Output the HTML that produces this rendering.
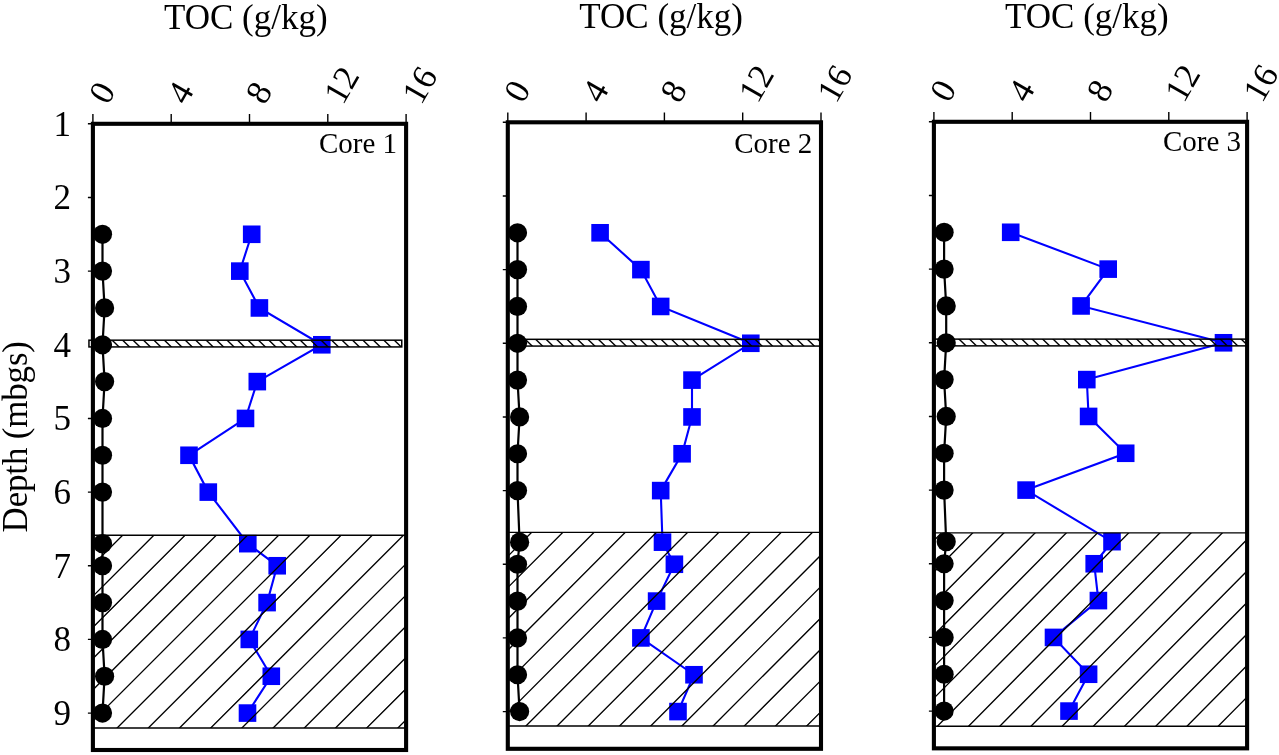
<!DOCTYPE html>
<html><head><meta charset="utf-8"><title>TOC depth profiles</title>
<style>html,body{margin:0;padding:0;background:#fff;}body{width:1279px;height:755px;overflow:hidden;}svg{display:block;will-change:transform;}text{font-family:'Liberation Serif', serif;fill:#000;}</style>
</head><body>
<svg width="1279" height="755" viewBox="0 0 1279 755">
<rect x="0" y="0" width="1279" height="755" fill="#fff"/>
<text transform="translate(26.7,532.4) rotate(-90)" font-size="35" textLength="191.4" lengthAdjust="spacing">Depth (mbgs)</text>
<g id="panel1">
<defs><clipPath id="hc0"><rect x="92.9" y="535.2" width="313.2" height="192.8"/></clipPath>
<clipPath id="bc0"><rect x="88.95" y="340.18" width="312.8" height="6.75"/></clipPath></defs>
<polyline points="251.7,234.29 239.8,271.12 259.4,307.95 321.8,344.78 257.3,381.61 245.5,418.44 189,455.27 208.3,492.1 247.8,543.66 277.2,565.76 267.1,602.59 249.3,639.42 271.3,676.25 247.5,713.08" fill="none" stroke="#0000ff" stroke-width="2.1"/>
<rect x="242.9" y="225.49" width="17.6" height="17.6" fill="#0000ff"/>
<rect x="231" y="262.32" width="17.6" height="17.6" fill="#0000ff"/>
<rect x="250.6" y="299.15" width="17.6" height="17.6" fill="#0000ff"/>
<rect x="313" y="335.98" width="17.6" height="17.6" fill="#0000ff"/>
<rect x="248.5" y="372.81" width="17.6" height="17.6" fill="#0000ff"/>
<rect x="236.7" y="409.64" width="17.6" height="17.6" fill="#0000ff"/>
<rect x="180.2" y="446.47" width="17.6" height="17.6" fill="#0000ff"/>
<rect x="199.5" y="483.3" width="17.6" height="17.6" fill="#0000ff"/>
<rect x="239" y="534.86" width="17.6" height="17.6" fill="#0000ff"/>
<rect x="268.4" y="556.96" width="17.6" height="17.6" fill="#0000ff"/>
<rect x="258.3" y="593.79" width="17.6" height="17.6" fill="#0000ff"/>
<rect x="240.5" y="630.62" width="17.6" height="17.6" fill="#0000ff"/>
<rect x="262.5" y="667.45" width="17.6" height="17.6" fill="#0000ff"/>
<rect x="238.7" y="704.28" width="17.6" height="17.6" fill="#0000ff"/>
<g clip-path="url(#hc0)" stroke="#000" stroke-width="1.35" fill="none">
<path d="M-137.5 733L65.3 530.2M-106.3 733L96.5 530.2M-75.1 733L127.7 530.2M-43.9 733L158.9 530.2M-12.7 733L190.1 530.2M18.5 733L221.3 530.2M49.7 733L252.5 530.2M80.9 733L283.7 530.2M112.1 733L314.9 530.2M143.3 733L346.1 530.2M174.5 733L377.3 530.2M205.7 733L408.5 530.2M236.9 733L439.7 530.2M268.1 733L470.9 530.2M299.3 733L502.1 530.2M330.5 733L533.3 530.2M361.7 733L564.5 530.2M392.9 733L595.7 530.2M424.1 733L626.9 530.2M455.3 733L658.1 530.2"/>
</g>
<path d="M92.9 535.2H406.1M92.9 728H406.1" stroke="#000" stroke-width="1.4" fill="none"/>
<g clip-path="url(#bc0)" stroke="#000" stroke-width="1.4" fill="none">
<path d="M67.62 337.55L79.98 349.55M78.07 337.55L90.43 349.55M88.52 337.55L100.88 349.55M98.97 337.55L111.33 349.55M109.42 337.55L121.78 349.55M119.87 337.55L132.23 349.55M130.32 337.55L142.68 349.55M140.77 337.55L153.13 349.55M151.22 337.55L163.58 349.55M161.67 337.55L174.03 349.55M172.12 337.55L184.48 349.55M182.57 337.55L194.93 349.55M193.02 337.55L205.38 349.55M203.47 337.55L215.83 349.55M213.92 337.55L226.28 349.55M224.37 337.55L236.73 349.55M234.82 337.55L247.18 349.55M245.27 337.55L257.63 349.55M255.72 337.55L268.08 349.55M266.17 337.55L278.53 349.55M276.62 337.55L288.98 349.55M287.07 337.55L299.43 349.55M297.52 337.55L309.88 349.55M307.97 337.55L320.33 349.55M318.42 337.55L330.78 349.55M328.87 337.55L341.23 349.55M339.32 337.55L351.68 349.55M349.77 337.55L362.13 349.55M360.22 337.55L372.58 349.55M370.67 337.55L383.03 349.55M381.12 337.55L393.48 349.55M391.57 337.55L403.93 349.55M402.02 337.55L414.38 349.55M412.47 337.55L424.83 349.55"/>
</g>
<rect x="88.95" y="340.18" width="312.8" height="6.75" fill="none" stroke="#000" stroke-width="1.5"/>
<polyline points="102.5,234.29 102.5,271.12 104.6,307.95 102.5,344.78 104.6,381.61 102.5,418.44 102.5,455.27 102.5,492.1 102.5,543.66 102.5,565.76 102.5,602.59 102.5,639.42 104.6,676.25 102.5,713.08" fill="none" stroke="#000" stroke-width="2.2"/>
<circle cx="102.5" cy="234.29" r="9.6" fill="#000"/>
<circle cx="102.5" cy="271.12" r="9.6" fill="#000"/>
<circle cx="104.6" cy="307.95" r="9.6" fill="#000"/>
<circle cx="102.5" cy="344.78" r="9.6" fill="#000"/>
<circle cx="104.6" cy="381.61" r="9.6" fill="#000"/>
<circle cx="102.5" cy="418.44" r="9.6" fill="#000"/>
<circle cx="102.5" cy="455.27" r="9.6" fill="#000"/>
<circle cx="102.5" cy="492.1" r="9.6" fill="#000"/>
<circle cx="102.5" cy="543.66" r="9.6" fill="#000"/>
<circle cx="102.5" cy="565.76" r="9.6" fill="#000"/>
<circle cx="102.5" cy="602.59" r="9.6" fill="#000"/>
<circle cx="102.5" cy="639.42" r="9.6" fill="#000"/>
<circle cx="104.6" cy="676.25" r="9.6" fill="#000"/>
<circle cx="102.5" cy="713.08" r="9.6" fill="#000"/>
<rect x="92.9" y="123.8" width="313.2" height="626.2" fill="none" stroke="#000" stroke-width="4.1"/>
<path d="M92.9 123.8V114M171.2 123.8V114M249.5 123.8V114M327.8 123.8V114M406.1 123.8V114M92.9 123.8H87.9M92.9 197.46H87.9M92.9 271.12H87.9M92.9 418.44H87.9M92.9 492.1H87.9M92.9 565.76H87.9M92.9 639.42H87.9M92.9 713.08H87.9" stroke="#000" stroke-width="1.4" fill="none"/>
<text transform="translate(107.8,106) rotate(-60)" font-size="35">0</text>
<text transform="translate(186.1,106) rotate(-60)" font-size="35">4</text>
<text transform="translate(264.4,106) rotate(-60)" font-size="35">8</text>
<text transform="translate(342.7,106) rotate(-60)" font-size="35">12</text>
<text transform="translate(421,106) rotate(-60)" font-size="35">16</text>
<text x="71" y="135.6" font-size="35" text-anchor="end">1</text>
<text x="71" y="209.26" font-size="35" text-anchor="end">2</text>
<text x="71" y="282.92" font-size="35" text-anchor="end">3</text>
<text x="71" y="356.58" font-size="35" text-anchor="end">4</text>
<text x="71" y="430.24" font-size="35" text-anchor="end">5</text>
<text x="71" y="503.9" font-size="35" text-anchor="end">6</text>
<text x="71" y="577.56" font-size="35" text-anchor="end">7</text>
<text x="71" y="651.22" font-size="35" text-anchor="end">8</text>
<text x="71" y="724.88" font-size="35" text-anchor="end">9</text>
<text x="163.9" y="29" font-size="35">TOC (g/kg)</text>
<text x="318.9" y="152.8" font-size="29">Core 1</text>
</g>
<g id="panel2">
<defs><clipPath id="hc1"><rect x="507.8" y="532.4" width="313.2" height="193.55"/></clipPath>
<clipPath id="bc1"><rect x="508" y="339.32" width="313" height="6.75"/></clipPath></defs>
<polyline points="600.1,232.79 640.9,269.62 660.7,306.45 750.8,343.28 692,380.11 692,416.94 682.1,453.77 660.7,490.6 662.5,542.16 674.4,564.26 656.6,601.09 640.9,637.92 694,674.75 678,711.58" fill="none" stroke="#0000ff" stroke-width="2.1"/>
<rect x="591.3" y="223.99" width="17.6" height="17.6" fill="#0000ff"/>
<rect x="632.1" y="260.82" width="17.6" height="17.6" fill="#0000ff"/>
<rect x="651.9" y="297.65" width="17.6" height="17.6" fill="#0000ff"/>
<rect x="742" y="334.48" width="17.6" height="17.6" fill="#0000ff"/>
<rect x="683.2" y="371.31" width="17.6" height="17.6" fill="#0000ff"/>
<rect x="683.2" y="408.14" width="17.6" height="17.6" fill="#0000ff"/>
<rect x="673.3" y="444.97" width="17.6" height="17.6" fill="#0000ff"/>
<rect x="651.9" y="481.8" width="17.6" height="17.6" fill="#0000ff"/>
<rect x="653.7" y="533.36" width="17.6" height="17.6" fill="#0000ff"/>
<rect x="665.6" y="555.46" width="17.6" height="17.6" fill="#0000ff"/>
<rect x="647.8" y="592.29" width="17.6" height="17.6" fill="#0000ff"/>
<rect x="632.1" y="629.12" width="17.6" height="17.6" fill="#0000ff"/>
<rect x="685.2" y="665.95" width="17.6" height="17.6" fill="#0000ff"/>
<rect x="669.2" y="702.78" width="17.6" height="17.6" fill="#0000ff"/>
<g clip-path="url(#hc1)" stroke="#000" stroke-width="1.35" fill="none">
<path d="M271.37 730.95L474.18 527.4M302.57 730.95L505.38 527.4M333.77 730.95L536.58 527.4M364.97 730.95L567.78 527.4M396.17 730.95L598.98 527.4M427.37 730.95L630.18 527.4M458.57 730.95L661.38 527.4M489.77 730.95L692.58 527.4M520.97 730.95L723.78 527.4M552.17 730.95L754.98 527.4M583.37 730.95L786.18 527.4M614.57 730.95L817.38 527.4M645.77 730.95L848.58 527.4M676.97 730.95L879.78 527.4M708.17 730.95L910.98 527.4M739.37 730.95L942.18 527.4M770.57 730.95L973.38 527.4M801.77 730.95L1004.58 527.4M832.97 730.95L1035.78 527.4M864.17 730.95L1066.98 527.4"/>
</g>
<path d="M507.8 532.4H821M507.8 725.95H821" stroke="#000" stroke-width="1.4" fill="none"/>
<g clip-path="url(#bc1)" stroke="#000" stroke-width="1.4" fill="none">
<path d="M491.17 336.7L503.53 348.7M501.62 336.7L513.98 348.7M512.07 336.7L524.43 348.7M522.52 336.7L534.88 348.7M532.97 336.7L545.33 348.7M543.42 336.7L555.78 348.7M553.87 336.7L566.23 348.7M564.32 336.7L576.68 348.7M574.77 336.7L587.13 348.7M585.22 336.7L597.58 348.7M595.67 336.7L608.03 348.7M606.12 336.7L618.48 348.7M616.57 336.7L628.93 348.7M627.02 336.7L639.38 348.7M637.47 336.7L649.83 348.7M647.92 336.7L660.28 348.7M658.37 336.7L670.73 348.7M668.82 336.7L681.18 348.7M679.27 336.7L691.63 348.7M689.72 336.7L702.08 348.7M700.17 336.7L712.53 348.7M710.62 336.7L722.98 348.7M721.07 336.7L733.43 348.7M731.52 336.7L743.88 348.7M741.97 336.7L754.33 348.7M752.42 336.7L764.78 348.7M762.87 336.7L775.23 348.7M773.32 336.7L785.68 348.7M783.77 336.7L796.13 348.7M794.22 336.7L806.58 348.7M804.67 336.7L817.03 348.7M815.12 336.7L827.48 348.7M825.57 336.7L837.93 348.7"/>
</g>
<rect x="508" y="339.32" width="313" height="6.75" fill="none" stroke="#000" stroke-width="1.5"/>
<polyline points="517.5,232.79 517.5,269.62 517.5,306.45 517.5,343.28 517.5,380.11 519.6,416.94 517.5,453.77 517.5,490.6 519.6,542.16 517.5,564.26 517.5,601.09 517.5,637.92 517.5,674.75 519.6,711.58" fill="none" stroke="#000" stroke-width="2.2"/>
<circle cx="517.5" cy="232.79" r="9.6" fill="#000"/>
<circle cx="517.5" cy="269.62" r="9.6" fill="#000"/>
<circle cx="517.5" cy="306.45" r="9.6" fill="#000"/>
<circle cx="517.5" cy="343.28" r="9.6" fill="#000"/>
<circle cx="517.5" cy="380.11" r="9.6" fill="#000"/>
<circle cx="519.6" cy="416.94" r="9.6" fill="#000"/>
<circle cx="517.5" cy="453.77" r="9.6" fill="#000"/>
<circle cx="517.5" cy="490.6" r="9.6" fill="#000"/>
<circle cx="519.6" cy="542.16" r="9.6" fill="#000"/>
<circle cx="517.5" cy="564.26" r="9.6" fill="#000"/>
<circle cx="517.5" cy="601.09" r="9.6" fill="#000"/>
<circle cx="517.5" cy="637.92" r="9.6" fill="#000"/>
<circle cx="517.5" cy="674.75" r="9.6" fill="#000"/>
<circle cx="519.6" cy="711.58" r="9.6" fill="#000"/>
<rect x="507.8" y="122.3" width="313.2" height="626.5" fill="none" stroke="#000" stroke-width="4.1"/>
<path d="M507.8 122.3V112.5M586.1 122.3V112.5M664.4 122.3V112.5M742.7 122.3V112.5M821 122.3V112.5M507.8 122.3H502.8M507.8 195.96H502.8M507.8 269.62H502.8M507.8 343.28H502.8M507.8 416.94H502.8M507.8 490.6H502.8M507.8 564.26H502.8M507.8 637.92H502.8M507.8 711.58H502.8" stroke="#000" stroke-width="1.4" fill="none"/>
<text transform="translate(522.7,104.5) rotate(-60)" font-size="35">0</text>
<text transform="translate(601,104.5) rotate(-60)" font-size="35">4</text>
<text transform="translate(679.3,104.5) rotate(-60)" font-size="35">8</text>
<text transform="translate(757.6,104.5) rotate(-60)" font-size="35">12</text>
<text transform="translate(835.9,104.5) rotate(-60)" font-size="35">16</text>
<text x="579.3" y="27.9" font-size="35">TOC (g/kg)</text>
<text x="734.2" y="152.7" font-size="29">Core 2</text>
</g>
<g id="panel3">
<defs><clipPath id="hc2"><rect x="933.9" y="532.9" width="313.2" height="193.3"/></clipPath>
<clipPath id="bc2"><rect x="934" y="339.12" width="313.2" height="6.75"/></clipPath></defs>
<polyline points="1010.7,232.29 1108.2,269.12 1081.1,305.95 1223.5,342.78 1086.8,379.61 1088.6,416.44 1125.7,453.27 1026.1,490.1 1112,541.66 1094.2,563.76 1098.4,600.59 1053.5,637.42 1088.6,674.25 1069,711.08" fill="none" stroke="#0000ff" stroke-width="2.1"/>
<rect x="1001.9" y="223.49" width="17.6" height="17.6" fill="#0000ff"/>
<rect x="1099.4" y="260.32" width="17.6" height="17.6" fill="#0000ff"/>
<rect x="1072.3" y="297.15" width="17.6" height="17.6" fill="#0000ff"/>
<rect x="1214.7" y="333.98" width="17.6" height="17.6" fill="#0000ff"/>
<rect x="1078" y="370.81" width="17.6" height="17.6" fill="#0000ff"/>
<rect x="1079.8" y="407.64" width="17.6" height="17.6" fill="#0000ff"/>
<rect x="1116.9" y="444.47" width="17.6" height="17.6" fill="#0000ff"/>
<rect x="1017.3" y="481.3" width="17.6" height="17.6" fill="#0000ff"/>
<rect x="1103.2" y="532.86" width="17.6" height="17.6" fill="#0000ff"/>
<rect x="1085.4" y="554.96" width="17.6" height="17.6" fill="#0000ff"/>
<rect x="1089.6" y="591.79" width="17.6" height="17.6" fill="#0000ff"/>
<rect x="1044.7" y="628.62" width="17.6" height="17.6" fill="#0000ff"/>
<rect x="1079.8" y="665.45" width="17.6" height="17.6" fill="#0000ff"/>
<rect x="1060.2" y="702.28" width="17.6" height="17.6" fill="#0000ff"/>
<g clip-path="url(#hc2)" stroke="#000" stroke-width="1.35" fill="none">
<path d="M682.85 731.2L884.05 527.9M714.05 731.2L915.25 527.9M745.25 731.2L946.45 527.9M776.45 731.2L977.65 527.9M807.65 731.2L1008.85 527.9M838.85 731.2L1040.05 527.9M870.05 731.2L1071.25 527.9M901.25 731.2L1102.45 527.9M932.45 731.2L1133.65 527.9M963.65 731.2L1164.85 527.9M994.85 731.2L1196.05 527.9M1026.05 731.2L1227.25 527.9M1057.25 731.2L1258.45 527.9M1088.45 731.2L1289.65 527.9M1119.65 731.2L1320.85 527.9M1150.85 731.2L1352.05 527.9M1182.05 731.2L1383.25 527.9M1213.25 731.2L1414.45 527.9M1244.45 731.2L1445.65 527.9M1275.65 731.2L1476.85 527.9"/>
</g>
<path d="M933.9 532.9H1247.1M933.9 726.2H1247.1" stroke="#000" stroke-width="1.4" fill="none"/>
<g clip-path="url(#bc2)" stroke="#000" stroke-width="1.4" fill="none">
<path d="M914.57 336.5L926.93 348.5M925.02 336.5L937.38 348.5M935.47 336.5L947.83 348.5M945.92 336.5L958.28 348.5M956.37 336.5L968.73 348.5M966.82 336.5L979.18 348.5M977.27 336.5L989.63 348.5M987.72 336.5L1000.08 348.5M998.17 336.5L1010.53 348.5M1008.62 336.5L1020.98 348.5M1019.07 336.5L1031.43 348.5M1029.52 336.5L1041.88 348.5M1039.97 336.5L1052.33 348.5M1050.42 336.5L1062.78 348.5M1060.87 336.5L1073.23 348.5M1071.32 336.5L1083.68 348.5M1081.77 336.5L1094.13 348.5M1092.22 336.5L1104.58 348.5M1102.67 336.5L1115.03 348.5M1113.12 336.5L1125.48 348.5M1123.57 336.5L1135.93 348.5M1134.02 336.5L1146.38 348.5M1144.47 336.5L1156.83 348.5M1154.92 336.5L1167.28 348.5M1165.37 336.5L1177.73 348.5M1175.82 336.5L1188.18 348.5M1186.27 336.5L1198.63 348.5M1196.72 336.5L1209.08 348.5M1207.17 336.5L1219.53 348.5M1217.62 336.5L1229.98 348.5M1228.07 336.5L1240.43 348.5M1238.52 336.5L1250.88 348.5M1248.97 336.5L1261.33 348.5M1259.42 336.5L1271.78 348.5"/>
</g>
<rect x="934" y="339.12" width="313.2" height="6.75" fill="none" stroke="#000" stroke-width="1.5"/>
<polyline points="944.1,232.29 944.1,269.12 946.2,305.95 946.2,342.78 944.1,379.61 946.2,416.44 944.1,453.27 944.1,490.1 946.2,541.66 944.1,563.76 944.1,600.59 944.1,637.42 944.1,674.25 944.1,711.08" fill="none" stroke="#000" stroke-width="2.2"/>
<circle cx="944.1" cy="232.29" r="9.6" fill="#000"/>
<circle cx="944.1" cy="269.12" r="9.6" fill="#000"/>
<circle cx="946.2" cy="305.95" r="9.6" fill="#000"/>
<circle cx="946.2" cy="342.78" r="9.6" fill="#000"/>
<circle cx="944.1" cy="379.61" r="9.6" fill="#000"/>
<circle cx="946.2" cy="416.44" r="9.6" fill="#000"/>
<circle cx="944.1" cy="453.27" r="9.6" fill="#000"/>
<circle cx="944.1" cy="490.1" r="9.6" fill="#000"/>
<circle cx="946.2" cy="541.66" r="9.6" fill="#000"/>
<circle cx="944.1" cy="563.76" r="9.6" fill="#000"/>
<circle cx="944.1" cy="600.59" r="9.6" fill="#000"/>
<circle cx="944.1" cy="637.42" r="9.6" fill="#000"/>
<circle cx="944.1" cy="674.25" r="9.6" fill="#000"/>
<circle cx="944.1" cy="711.08" r="9.6" fill="#000"/>
<rect x="933.9" y="121.8" width="313.2" height="626.55" fill="none" stroke="#000" stroke-width="4.1"/>
<path d="M933.9 121.8V112M1012.2 121.8V112M1090.5 121.8V112M1168.8 121.8V112M1247.1 121.8V112M933.9 121.8H928.9M933.9 195.46H928.9M933.9 269.12H928.9M933.9 342.78H928.9M933.9 416.44H928.9M933.9 490.1H928.9M933.9 563.76H928.9M933.9 637.42H928.9M933.9 711.08H928.9" stroke="#000" stroke-width="1.4" fill="none"/>
<text transform="translate(948.8,104) rotate(-60)" font-size="35">0</text>
<text transform="translate(1027.1,104) rotate(-60)" font-size="35">4</text>
<text transform="translate(1105.4,104) rotate(-60)" font-size="35">8</text>
<text transform="translate(1183.7,104) rotate(-60)" font-size="35">12</text>
<text transform="translate(1262,104) rotate(-60)" font-size="35">16</text>
<text x="1005.1" y="27.6" font-size="35">TOC (g/kg)</text>
<text x="1162.9" y="151.4" font-size="29">Core 3</text>
</g>
</svg>
</body></html>
